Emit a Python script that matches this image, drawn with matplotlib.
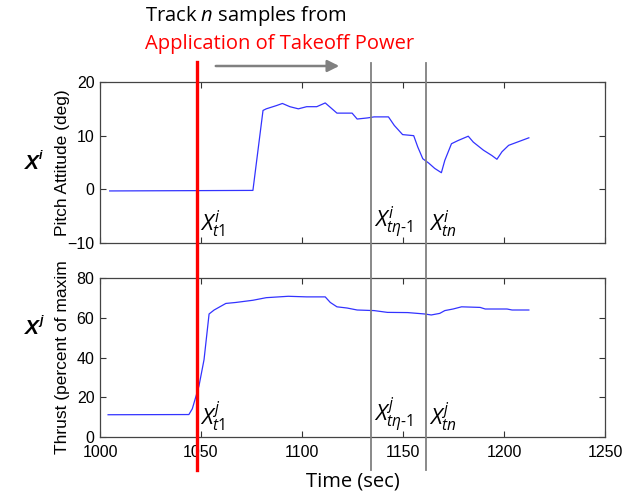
import matplotlib
matplotlib.use('Agg')
import matplotlib.pyplot as plt
import matplotlib.transforms as mtransforms
from matplotlib.lines import Line2D
import numpy as np

plt.rcParams['font.family'] = ['Liberation Sans', 'DejaVu Sans']
plt.rcParams['mathtext.fontset'] = 'custom'
plt.rcParams['mathtext.it'] = 'Open Sans:italic'
plt.rcParams['mathtext.rm'] = 'Open Sans'

# pitch attitude (deg) vs time (sec)
pitch_t = [1004.8, 1075.7, 1080.7, 1082.3, 1087.3, 1090.3, 1094.0, 1098.2, 1102.3,
           1107.3, 1111.5, 1117.3, 1124.8, 1127.3, 1132.3, 1135.7, 1142.8, 1145.7,
           1149.8, 1155.3, 1157.3, 1159.8, 1162.7, 1165.7, 1169.0, 1170.7, 1174.0,
           1177.3, 1182.3, 1184.8, 1189.8, 1194.0, 1196.5, 1199.0, 1202.3, 1207.3,
           1212.3]
pitch = [-0.3, -0.2, 14.7, 15.0, 15.6, 16.0, 15.4, 15.0, 15.4,
         15.4, 16.1, 14.2, 14.2, 13.1, 13.3, 13.5, 13.5, 11.9,
         10.2, 10.0, 7.9, 5.7, 4.9, 3.9, 3.1, 5.4, 8.5,
         9.1, 9.9, 8.8, 7.3, 6.3, 5.6, 7.0, 8.2, 8.9,
         9.6]

# thrust (percent of max) vs time (sec)
thrust_t = [1004.0, 1044.0, 1045.7, 1049.0, 1051.5, 1054.0, 1056.5, 1062.3, 1067.3,
            1075.7, 1082.3, 1093.2, 1102.3, 1111.5, 1114.0, 1117.3, 1122.3, 1127.3,
            1135.7, 1142.3, 1152.3, 1160.7, 1164.0, 1168.2, 1170.7, 1174.8, 1179.0,
            1188.2, 1190.7, 1201.5, 1204.0, 1212.3]
thrust = [11.2, 11.3, 14.2, 25.7, 38.9, 61.9, 63.9, 67.2, 67.7,
          68.8, 70.1, 70.8, 70.5, 70.5, 67.7, 65.5, 64.9, 63.9,
          63.6, 62.7, 62.6, 61.9, 61.4, 62.2, 63.6, 64.4, 65.5,
          65.2, 64.4, 64.4, 63.9, 63.9]

t_start = 1048.2          # application of takeoff power
t_marks = [1134.2, 1161.5]  # t(n-1), t(n)
xticks = [1000, 1050, 1100, 1150, 1200, 1250]

W, H = 626, 498
fig = plt.figure(figsize=(W / 100, H / 100), dpi=100)


def px_axes(l, t, r, b):
    return fig.add_axes([l / W, 1 - b / H, (r - l) / W, (b - t) / H])


ax1 = px_axes(100, 82, 605, 243)
ax2 = px_axes(100, 278, 605, 437)

ax1.plot(pitch_t, pitch, color='#3333ff', lw=0.9)
ax2.plot(thrust_t, thrust, color='#3333ff', lw=0.9)

for ax in (ax1, ax2):
    ax.set_xlim(1000, 1250)
    ax.set_xticks(xticks)
    ax.tick_params(direction='in', top=True, right=True, length=4, width=0.8,
                   color='#333333', labelsize=11.5)
    ax.tick_params(axis='y', pad=4)
    ax.tick_params(axis='x', pad=6)
    for s in ax.spines.values():
        s.set_color('#444444')
        s.set_linewidth(0.9)

ax1.set_ylim(-10, 20)
ax1.set_yticks([-10, 0, 10, 20])
ax1.set_xticklabels([])
ax2.set_ylim(0, 80)
ax2.set_yticks([0, 20, 40, 60, 80])

ax1.set_ylabel('Pitch Attitude (deg)', fontsize=12.5, va='center')
ax2.set_ylabel('Thrust (percent of maxim', fontsize=12.5, va='center')
for ax in (ax1, ax2):
    ax.yaxis.set_label_coords((62 - 100) / 505, 0.5)
ax2.set_xlabel('Time (sec)', fontsize=14.5, family='Open Sans', labelpad=8)

# vertical marker lines spanning both panels
tr = mtransforms.blended_transform_factory(ax2.transData, fig.transFigure)
fig.add_artist(Line2D([t_start, t_start], [1 - 62 / H, 1 - 470 / H], transform=tr,
                      color='red', lw=2.4))
for tm in t_marks:
    fig.add_artist(Line2D([tm, tm], [1 - 63 / H, 1 - 470 / H], transform=tr,
                          color='#808080', lw=1.3))

# arrow
fig.add_artist(matplotlib.patches.FancyArrowPatch(
    (213 / W, 1 - 66 / H), (342 / W, 1 - 66 / H), transform=fig.transFigure,
    arrowstyle='-|>,head_length=7,head_width=3.5', color='#808080', lw=1.8))

fig.text(145 / W, 1 - 16 / H, 'Track $n$ samples from', family='Open Sans',
         fontsize=14.5, va='center', ha='left')
fig.text(145 / W, 1 - 44 / H, 'Application of Takeoff Power', family='Open Sans',
         fontsize=14.5, va='center', ha='left', color='red')

# panel tags X^i / X^j
for y, sup in ((163, 'i'), (328, 'j')):
    fig.text(32 / W, 1 - y / H, 'X', fontsize=15, ha='center', va='center',
             style='italic', weight='bold')
    fig.text(41 / W, 1 - (y - 7) / H, sup, fontsize=9, ha='center', va='center',
             style='italic', weight='bold')

# subscripted labels
lbl_i = [r'$X^i_{t1}$', r'$X^i_{t\eta\text{-}1}$', r'$X^i_{tn}$']
lbl_j = [r'$X^j_{t1}$', r'$X^j_{t\eta\text{-}1}$', r'$X^j_{tn}$']
for ax, lbls in ((ax1, lbl_i), (ax2, lbl_j)):
    for x, s in zip([t_start] + t_marks, lbls):
        ax.text(x + 1.5, 0.02, s, transform=mtransforms.blended_transform_factory(
            ax.transData, ax.transAxes), fontsize=16, ha='left', va='bottom')

fig.savefig('out.png', dpi=100)
